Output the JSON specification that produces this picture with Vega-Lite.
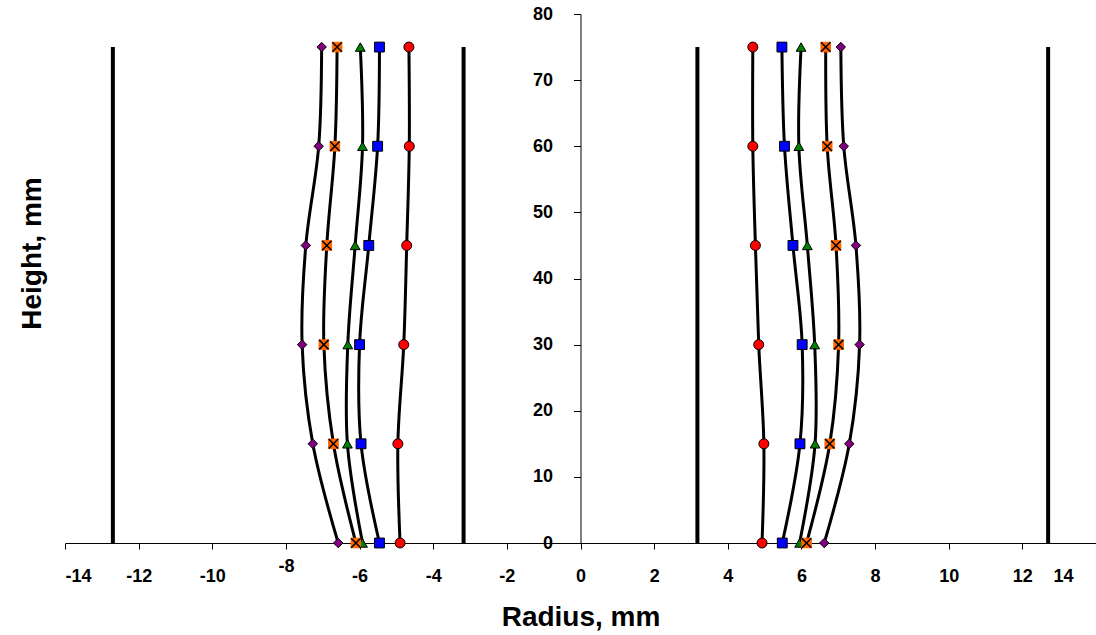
{
  "$schema": "https://vega.github.io/schema/vega-lite/v6.json",
  "width": 1031,
  "height": 529,
  "autosize": {"type": "none"},
  "padding": {"left": 65, "top": 14, "right": 0, "bottom": 92},
  "background": "white",
  "config": {
    "view": {"stroke": null},
    "font": "Liberation Sans",
    "axis": {
      "grid": false,
      "domainColor": "black",
      "tickColor": "black",
      "labelColor": "black",
      "titleColor": "black",
      "labelFont": "Liberation Sans",
      "titleFont": "Liberation Sans",
      "labelFontSize": 18,
      "labelFontWeight": "bold",
      "titleFontSize": 28,
      "titleFontWeight": "bold"
    }
  },
  "datasets": {
    "walls": [
      {"r": -12.7, "h0": 0, "h1": 75},
      {"r": -3.175, "h0": 0, "h1": 75},
      {"r": 3.175, "h0": 0, "h1": 75},
      {"r": 12.7, "h0": 0, "h1": 75}
    ],
    "pts": [
      {"series": "circle", "side": "L", "h": 0, "r": -4.90},
      {"series": "circle", "side": "L", "h": 15, "r": -4.96},
      {"series": "circle", "side": "L", "h": 30, "r": -4.80},
      {"series": "circle", "side": "L", "h": 45, "r": -4.72},
      {"series": "circle", "side": "L", "h": 60, "r": -4.65},
      {"series": "circle", "side": "L", "h": 75, "r": -4.66},
      {"series": "square", "side": "L", "h": 0, "r": -5.46},
      {"series": "square", "side": "L", "h": 15, "r": -5.96},
      {"series": "square", "side": "L", "h": 30, "r": -6.00},
      {"series": "square", "side": "L", "h": 45, "r": -5.75},
      {"series": "square", "side": "L", "h": 60, "r": -5.51},
      {"series": "square", "side": "L", "h": 75, "r": -5.46},
      {"series": "triangle", "side": "L", "h": 0, "r": -5.92},
      {"series": "triangle", "side": "L", "h": 15, "r": -6.33},
      {"series": "triangle", "side": "L", "h": 30, "r": -6.32},
      {"series": "triangle", "side": "L", "h": 45, "r": -6.12},
      {"series": "triangle", "side": "L", "h": 60, "r": -5.92},
      {"series": "triangle", "side": "L", "h": 75, "r": -5.98},
      {"series": "cross", "side": "L", "h": 0, "r": -6.10},
      {"series": "cross", "side": "L", "h": 15, "r": -6.71},
      {"series": "cross", "side": "L", "h": 30, "r": -6.97},
      {"series": "cross", "side": "L", "h": 45, "r": -6.89},
      {"series": "cross", "side": "L", "h": 60, "r": -6.67},
      {"series": "cross", "side": "L", "h": 75, "r": -6.61},
      {"series": "diamond", "side": "L", "h": 0, "r": -6.58},
      {"series": "diamond", "side": "L", "h": 15, "r": -7.27},
      {"series": "diamond", "side": "L", "h": 30, "r": -7.56},
      {"series": "diamond", "side": "L", "h": 45, "r": -7.46},
      {"series": "diamond", "side": "L", "h": 60, "r": -7.11},
      {"series": "diamond", "side": "L", "h": 75, "r": -7.03},
      {"series": "circle", "side": "R", "h": 0, "r": 4.93},
      {"series": "circle", "side": "R", "h": 15, "r": 4.98},
      {"series": "circle", "side": "R", "h": 30, "r": 4.84},
      {"series": "circle", "side": "R", "h": 45, "r": 4.75},
      {"series": "circle", "side": "R", "h": 60, "r": 4.68},
      {"series": "circle", "side": "R", "h": 75, "r": 4.68},
      {"series": "square", "side": "R", "h": 0, "r": 5.48},
      {"series": "square", "side": "R", "h": 15, "r": 5.96},
      {"series": "square", "side": "R", "h": 30, "r": 6.02},
      {"series": "square", "side": "R", "h": 45, "r": 5.77},
      {"series": "square", "side": "R", "h": 60, "r": 5.54},
      {"series": "square", "side": "R", "h": 75, "r": 5.47},
      {"series": "triangle", "side": "R", "h": 0, "r": 5.95},
      {"series": "triangle", "side": "R", "h": 15, "r": 6.37},
      {"series": "triangle", "side": "R", "h": 30, "r": 6.36},
      {"series": "triangle", "side": "R", "h": 45, "r": 6.16},
      {"series": "triangle", "side": "R", "h": 60, "r": 5.93},
      {"series": "triangle", "side": "R", "h": 75, "r": 5.99},
      {"series": "cross", "side": "R", "h": 0, "r": 6.14},
      {"series": "cross", "side": "R", "h": 15, "r": 6.77},
      {"series": "cross", "side": "R", "h": 30, "r": 7.01},
      {"series": "cross", "side": "R", "h": 45, "r": 6.94},
      {"series": "cross", "side": "R", "h": 60, "r": 6.70},
      {"series": "cross", "side": "R", "h": 75, "r": 6.66},
      {"series": "diamond", "side": "R", "h": 0, "r": 6.62},
      {"series": "diamond", "side": "R", "h": 15, "r": 7.30},
      {"series": "diamond", "side": "R", "h": 30, "r": 7.58},
      {"series": "diamond", "side": "R", "h": 45, "r": 7.48},
      {"series": "diamond", "side": "R", "h": 60, "r": 7.15},
      {"series": "diamond", "side": "R", "h": 75, "r": 7.07}
    ]
  },
  "layer": [
    {
      "data": {"name": "walls"},
      "mark": {"type": "rule", "strokeWidth": 4, "color": "black"},
      "encoding": {
        "x": {
          "field": "r", "type": "quantitative",
          "scale": {"domain": [-14, 14], "nice": false, "zero": false},
          "axis": {
            "values": [-14, -12, -10, -8, -6, -4, -2, 0, 2, 4, 6, 8, 10, 12, 14],
            "labelExpr": "'' + datum.value",
            "title": "Radius, mm",
            "tickSize": 6,
            "labelPadding": {"condition": {"test": "datum.value === -8", "value": 8}, "value": 18},
            "labelOffset": {"condition": {"test": "datum.value === 14", "value": -23}, "value": 0},
            "titleY": 82,
            "titleBaseline": "alphabetic"
          }
        },
        "y": {
          "field": "h0", "type": "quantitative",
          "scale": {"domain": [0, 80], "nice": false},
          "axis": {
            "values": [0, 10, 20, 30, 40, 50, 60, 70, 80],
            "title": "Height, mm",
            "offset": -515.5,
            "tickSize": 7,
            "labelPadding": 21,
            "titleX": -540.5,
            "titleY": 239,
            "titleAngle": -90,
            "titleAlign": "center",
            "titleBaseline": "alphabetic"
          }
        },
        "y2": {"field": "h1"}
      }
    },
    {
      "data": {"name": "pts"},
      "mark": {"type": "line", "interpolate": "catmull-rom", "color": "black", "strokeWidth": 3},
      "encoding": {
        "x": {"field": "r", "type": "quantitative"},
        "y": {"field": "h", "type": "quantitative"},
        "order": {"field": "h", "type": "quantitative"},
        "detail": [{"field": "series"}, {"field": "side"}]
      }
    },
    {
      "data": {"name": "pts"},
      "mark": {"type": "point", "filled": true, "strokeWidth": 1, "opacity": 1},
      "encoding": {
        "x": {"field": "r", "type": "quantitative"},
        "y": {"field": "h", "type": "quantitative"},
        "shape": {
          "field": "series", "type": "nominal",
          "scale": {"domain": ["circle", "square", "triangle", "cross", "diamond"], "range": ["circle", "square", "triangle-up", "square", "diamond"]},
          "legend": null
        },
        "fill": {
          "field": "series", "type": "nominal",
          "scale": {"domain": ["circle", "square", "triangle", "cross", "diamond"], "range": ["#FF0000", "#0000FF", "#008000", "#FF6600", "#800080"]},
          "legend": null
        },
        "stroke": {
          "field": "series", "type": "nominal",
          "scale": {"domain": ["circle", "square", "triangle", "cross", "diamond"], "range": ["#000000", "#000000", "#000000", "#FF6600", "#000000"]},
          "legend": null
        },
        "size": {
          "field": "series", "type": "nominal",
          "scale": {"domain": ["circle", "square", "triangle", "cross", "diamond"], "range": [100, 90, 110, 100, 120]},
          "legend": null
        }
      }
    },
    {
      "data": {"name": "pts"},
      "transform": [{"filter": "datum.series === 'cross'"}],
      "mark": {"type": "point", "shape": "M-1,-1L1,1M1,-1L-1,1", "filled": false, "stroke": "black", "strokeWidth": 1.5, "size": 90, "opacity": 1},
      "encoding": {
        "x": {"field": "r", "type": "quantitative"},
        "y": {"field": "h", "type": "quantitative"}
      }
    }
  ]
}
